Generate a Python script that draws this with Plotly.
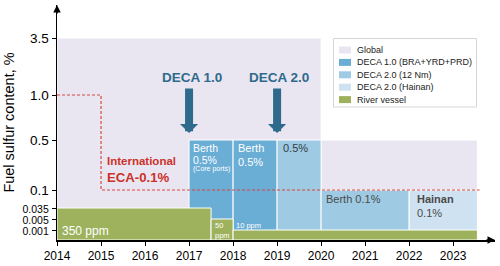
import numpy as np
import plotly.graph_objects as go

# ---- y-axis: custom (broken) sulfur scale ----
tick_labels = ["0.001", "0.005", "0.035", "0.1", "0.5", "1.0", "3.5"]
tick_values = [0.001, 0.005, 0.035, 0.1, 0.5, 1.0, 3.5]
tick_positions = [10, 21, 32, 50, 100, 145, 202]   # position on the drawn axis
small_ticks = {"0.001", "0.005", "0.035"}

def ypos(v):
    return float(np.interp(v, [0] + tick_values, [0] + tick_positions))

years = [2014, 2015, 2016, 2017, 2018, 2019, 2020, 2021, 2022, 2023]

# ---- data: regulation periods (start year, end year, sulfur %) ----
global_start, global_end, global_sulfur = [2014, 2020], [2020, 2023.55], [3.5, 0.5]
deca1_start, deca1_end, deca1_sulfur = [2017, 2018], [2018, 2019], [0.5, 0.5]
deca2_start, deca2_end, deca2_sulfur = [2019, 2020], [2020, 2022], [0.5, 0.1]
hainan_start, hainan_end, hainan_sulfur = [2022], [2023.55], [0.1]
river_start, river_end, river_sulfur = [2014, 2017.5, 2018], [2017.5, 2018, 2023.55], [0.035, 0.005, 0.001]
eca_years = [2014, 2015, 2015, 2023.6]
eca_sulfur = [1.0, 1.0, 0.1, 0.1]

series = [
    ("Global", global_start, global_end, global_sulfur, "#e9e6f2"),
    ("DECA 1.0 (BRA+YRD+PRD)", deca1_start, deca1_end, deca1_sulfur, "#6aadd5"),
    ("DECA 2.0 (12 Nm)", deca2_start, deca2_end, deca2_sulfur, "#9ecae3"),
    ("DECA 2.0 (Hainan)", hainan_start, hainan_end, hainan_sulfur, "#cfe2f1"),
    ("River vessel", river_start, river_end, river_sulfur, "#9eb25d"),
]

W, H = 500, 266
ML, MR, MT, MB = 57, 5, 5, 26
def px(x):  # pixel -> paper x
    return (x - ML) / (W - ML - MR)
def py(y):  # pixel -> paper y
    return (H - MB - y) / (H - MT - MB)

FONT = "Arial, Liberation Sans, sans-serif"
fig = go.Figure()
for name, s, e, v, col in series:
    s, e = np.array(s, float), np.array(e, float)
    fig.add_trace(go.Bar(
        name=name, x=(s + e) / 2, width=e - s, y=[ypos(x) for x in v], base=0,
        marker=dict(color=col, line=dict(color="white", width=1)),
        showlegend=False, hoverinfo="skip"))

fig.add_trace(go.Scatter(
    x=eca_years, y=[ypos(v) for v in eca_sulfur], mode="lines", showlegend=False,
    line=dict(color="#d9463e", width=1.2, dash="3px,2px"), hoverinfo="skip"))

ann = []
shapes = []
def txt(x, y, t, size, color, bold=False, anchor="left"):
    ann.append(dict(x=x, y=y, xref="x", yref="y", text=("<b>%s</b>" % t) if bold else t,
                    showarrow=False, xanchor=anchor, yanchor="middle",
                    xshift=-2 if anchor == "left" else 0,
                    font=dict(size=size, color=color, family=FONT)))

# DECA labels and arrows
txt(2017.07, 163, "DECA 1.0", 13.5, "#2e6a8c", True, "center")
txt(2019.05, 163, "DECA 2.0", 13.5, "#2e6a8c", True, "center")
for xa in (2017.0, 2019.0):
    ann.append(dict(x=xa, y=107, xref="x", yref="y", ax=xa, ay=153, axref="x", ayref="y",
                    text="", showarrow=True, arrowhead=1, arrowsize=0.38, arrowwidth=8,
                    arrowcolor="#2e6a8c"))

# block labels
txt(2017.1, 92, "Berth", 10.5, "white")
txt(2017.1, 80, "0.5%", 10.5, "white")
txt(2017.1, 71, "(Core ports)", 7, "white")
txt(2018.12, 92, "Berth", 11, "white")
txt(2018.12, 78, "0.5%", 11, "white")
txt(2019.14, 92, "0.5%", 11, "#333d45")
txt(2020.11, 41, "Berth 0.1%", 11, "#4a4a4a")
txt(2022.17, 41, "Hainan", 11, "#4a4a4a", True)
txt(2022.17, 27, "0.1%", 11, "#4a4a4a")
txt(2014.12, 9, "350 ppm", 12, "white")
txt(2017.59, 15, "50", 7.5, "white")
txt(2017.59, 5, "ppm", 7.5, "white")
txt(2018.07, 15, "10 ppm", 7.5, "white")
txt(2015.14, 79, "International", 11.5, "#cc3228", True)
txt(2015.14, 63, "ECA-0.1%", 13.2, "#cc3228", True)

# axis arrowheads
ann.append(dict(x=0, y=1, xref="paper", yref="paper", ax=0, ay=10, text="", showarrow=True,
                arrowhead=2, arrowsize=1, arrowwidth=1.5, arrowcolor="black"))
ann.append(dict(x=1, y=0, xref="paper", yref="paper", ax=-10, ay=0, text="", showarrow=True,
                arrowhead=2, arrowsize=1, arrowwidth=1.5, arrowcolor="black"))

# legend (drawn from the series list)
shapes.append(dict(type="rect", xref="paper", yref="paper", x0=px(333.5), x1=px(476.5),
                   y0=py(107), y1=py(38.5), fillcolor="white",
                   line=dict(color="#d6d6d6", width=1), layer="above"))
for i, (name, s, e, v, col) in enumerate(series):
    yc = 50 + i * 12.4
    shapes.append(dict(type="rect", xref="paper", yref="paper", x0=px(339), x1=px(351),
                       y0=py(yc + 3.5), y1=py(yc - 3.5), fillcolor=col,
                       line=dict(width=0), layer="above"))
    ann.append(dict(x=px(355), y=py(yc), xref="paper", yref="paper", text=name,
                    showarrow=False, xanchor="left", yanchor="middle",
                    font=dict(size=9, color="#222222", family=FONT)))

ticktext = ['<span style="font-size:10.5px">%s</span>' % t if t in small_ticks else t
            for t in tick_labels]

fig.update_layout(
    width=W, height=H, margin=dict(l=ML, r=MR, t=MT, b=MB, autoexpand=False),
    plot_bgcolor="white", paper_bgcolor="white", barmode="overlay", bargap=0,
    font=dict(family=FONT, size=12, color="black"),
    annotations=ann, shapes=shapes, showlegend=False,
    xaxis=dict(range=[2014, 2023.95], tickvals=years, ticktext=[str(y) for y in years],
               showgrid=False, zeroline=False, showline=True, linecolor="black",
               linewidth=1.5, ticks="outside", ticklen=4, tickcolor="black",
               tickfont=dict(size=12), automargin=False),
    yaxis=dict(range=[0, 235], tickvals=tick_positions, ticktext=ticktext,
               showgrid=False, zeroline=False, showline=True, linecolor="black",
               linewidth=1.5, ticks="outside", ticklen=4, tickcolor="black",
               tickfont=dict(size=13.5), automargin=False,
               title=dict(text="Fuel sulfur content, %", font=dict(size=14.5), standoff=4)),
)
fig.write_html("out.html", config={"displayModeBar": False, "staticPlot": True},
               post_script="document.body.style.margin='0';document.body.style.overflow='hidden';")
